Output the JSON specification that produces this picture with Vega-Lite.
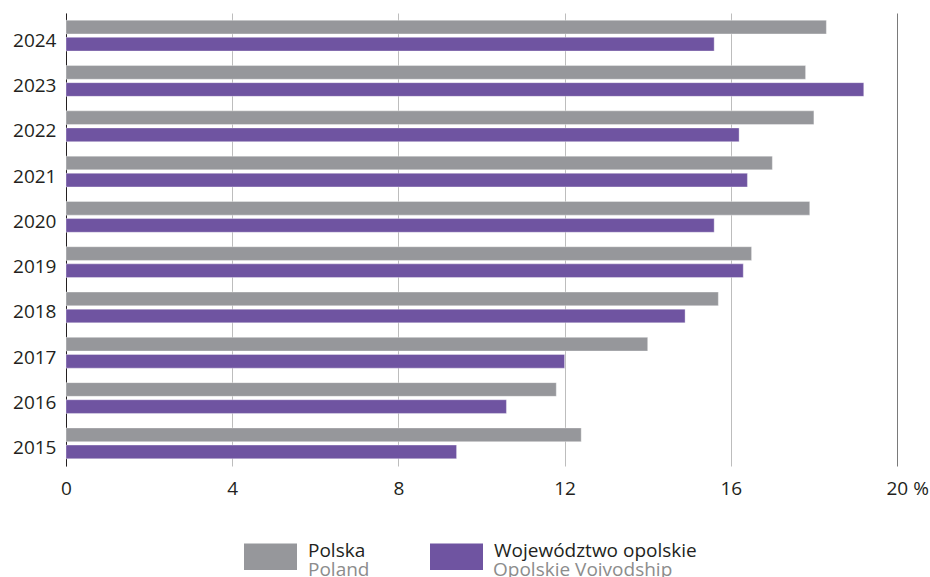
{
  "$schema": "https://vega.github.io/schema/vega-lite/v6.json",
  "width": 831,
  "height": 453,
  "padding": {"left": 12, "top": 13, "right": 0, "bottom": 0},
  "background": "white",
  "config": {
    "view": {"stroke": null},
    "font": "Open Sans",
    "axis": {"labelFont": "Open Sans", "labelFontSize": 19, "labelColor": "#231f20"}
  },
  "data": {
    "values": [
      {"year": "2024", "series": "Polska", "en": "Poland", "value": 18.3},
      {"year": "2024", "series": "Województwo opolskie", "en": "Opolskie Voivodship", "value": 15.6},
      {"year": "2023", "series": "Polska", "en": "Poland", "value": 17.8},
      {"year": "2023", "series": "Województwo opolskie", "en": "Opolskie Voivodship", "value": 19.2},
      {"year": "2022", "series": "Polska", "en": "Poland", "value": 18.0},
      {"year": "2022", "series": "Województwo opolskie", "en": "Opolskie Voivodship", "value": 16.2},
      {"year": "2021", "series": "Polska", "en": "Poland", "value": 17.0},
      {"year": "2021", "series": "Województwo opolskie", "en": "Opolskie Voivodship", "value": 16.4},
      {"year": "2020", "series": "Polska", "en": "Poland", "value": 17.9},
      {"year": "2020", "series": "Województwo opolskie", "en": "Opolskie Voivodship", "value": 15.6},
      {"year": "2019", "series": "Polska", "en": "Poland", "value": 16.5},
      {"year": "2019", "series": "Województwo opolskie", "en": "Opolskie Voivodship", "value": 16.3},
      {"year": "2018", "series": "Polska", "en": "Poland", "value": 15.7},
      {"year": "2018", "series": "Województwo opolskie", "en": "Opolskie Voivodship", "value": 14.9},
      {"year": "2017", "series": "Polska", "en": "Poland", "value": 14.0},
      {"year": "2017", "series": "Województwo opolskie", "en": "Opolskie Voivodship", "value": 12.0},
      {"year": "2016", "series": "Polska", "en": "Poland", "value": 11.8},
      {"year": "2016", "series": "Województwo opolskie", "en": "Opolskie Voivodship", "value": 10.6},
      {"year": "2015", "series": "Polska", "en": "Poland", "value": 12.4},
      {"year": "2015", "series": "Województwo opolskie", "en": "Opolskie Voivodship", "value": 9.4}
    ]
  },
  "mark": {"type": "bar", "stroke": "#ffffff", "strokeOpacity": 0.35, "strokeWidth": 1},
  "encoding": {
    "y": {
      "field": "year", "type": "nominal", "sort": "descending", "title": null,
      "scale": {"paddingInner": 0.32, "paddingOuter": 0.16},
      "axis": {"ticks": false, "domainColor": "#231f20", "domainWidth": 1, "labelPadding": 10, "labelOffset": 5, "grid": false}
    },
    "yOffset": {
      "field": "series", "type": "nominal",
      "scale": {"domain": ["Polska", "Województwo opolskie"], "paddingInner": 0.2, "paddingOuter": 0}
    },
    "x": {
      "field": "value", "type": "quantitative", "title": null,
      "scale": {"domain": [0, 20], "nice": false},
      "axis": {
        "values": [0, 4, 8, 12, 16, 20],
        "domain": false, "ticks": false, "grid": true,
        "gridColor": {"condition": {"test": "datum.value === 20", "value": "#7a7a7a"}, "value": "#bdbdbd"},
        "gridWidth": 1,
        "labelPadding": 13,
        "labelExpr": "datum.value === 20 ? '20 %' : datum.label",
        "labelAlign": {"condition": {"test": "datum.value === 20", "value": "left"}, "value": "center"},
        "labelOffset": {"condition": {"test": "datum.value === 20", "value": -11}, "value": 0},
        "labelFlush": false
      }
    },
    "color": {
      "field": "series", "type": "nominal",
      "scale": {"domain": ["Polska", "Województwo opolskie"], "range": ["#96979b", "#6f54a1"]},
      "legend": {
        "title": null, "orient": "none", "direction": "horizontal",
        "legendX": 178, "legendY": 517, "padding": 0,
        "symbolType": "M-1,-0.5H1V0.5H-1Z", "symbolSize": 2809, "symbolStrokeWidth": 0,
        "labelFont": "Open Sans", "labelFontSize": 19, "labelColor": "#231f20",
        "labelBaseline": "alphabetic", "labelOffset": 11, "columnPadding": 64, "labelLimit": 400
      }
    },
    "opacity": {
      "field": "en", "type": "nominal",
      "scale": {"domain": ["Poland", "Opolskie Voivodship"], "range": [1, 1]},
      "legend": {
        "title": null, "orient": "none", "direction": "horizontal",
        "legendX": 178, "legendY": 536, "padding": 0,
        "symbolType": "M-1,-0.5H1V0.5H-1Z", "symbolSize": 2809, "symbolStrokeWidth": 0,
        "symbolOpacity": 0, "symbolFillColor": "transparent",
        "labelFont": "Open Sans", "labelFontSize": 19, "labelColor": "#8c8c8c",
        "labelBaseline": "alphabetic", "labelOffset": 11, "columnPadding": 59, "labelLimit": 400
      }
    }
  }
}
